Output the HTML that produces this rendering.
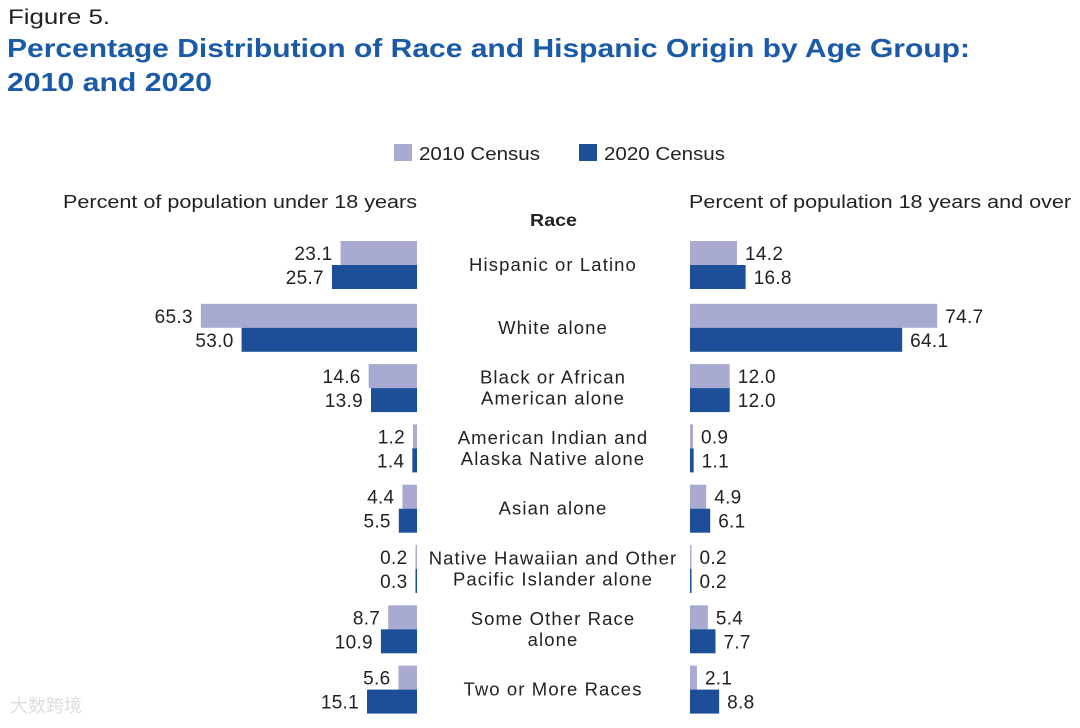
<!DOCTYPE html>
<html><head><meta charset="utf-8"><style>
body{margin:0;background:#fff;width:1080px;height:723px;overflow:hidden;font-family:"Liberation Sans",sans-serif;}
svg text{font-family:"Liberation Sans",sans-serif;}
</style></head><body>
<svg width="1080" height="723">
<text x="8" y="24" font-size="21" fill="#222" textLength="102" lengthAdjust="spacingAndGlyphs">Figure 5.</text>
<text x="7" y="57" font-size="26" font-weight="bold" fill="#1a5aa6" textLength="963" lengthAdjust="spacingAndGlyphs">Percentage Distribution of Race and Hispanic Origin by Age Group:</text>
<text x="7" y="91" font-size="26" font-weight="bold" fill="#1a5aa6" textLength="205" lengthAdjust="spacingAndGlyphs">2010 and 2020</text>
<g>
<rect x="394" y="144" width="18" height="17" fill="#a9aad2"/>
<text x="419" y="160" font-size="18.5" fill="#222" textLength="121" lengthAdjust="spacingAndGlyphs">2010 Census</text>
<rect x="579" y="144" width="18" height="17" fill="#1c4f98"/>
<text x="604" y="160" font-size="18.5" fill="#222" textLength="121" lengthAdjust="spacingAndGlyphs">2020 Census</text>
</g>
<text x="63" y="208" font-size="18" fill="#222" textLength="354" lengthAdjust="spacingAndGlyphs">Percent of population under 18 years</text>
<text x="530" y="226" font-size="17.5" font-weight="bold" fill="#222" textLength="47" lengthAdjust="spacingAndGlyphs">Race</text>
<text x="689" y="208" font-size="18" fill="#222" textLength="382" lengthAdjust="spacingAndGlyphs">Percent of population 18 years and over</text>
<g id="marks"></g>
<text x="10" y="712" font-size="18" fill="#ddd">大数跨境</text>
</svg>
<script>
const categories=[["Hispanic or Latino"],["White alone"],["Black or African","American alone"],["American Indian and","Alaska Native alone"],["Asian alone"],["Native Hawaiian and Other","Pacific Islander alone"],["Some Other Race","alone"],["Two or More Races"]];
const under18_2010=[23.1,65.3,14.6,1.2,4.4,0.2,8.7,5.6];
const under18_2020=[25.7,53.0,13.9,1.4,5.5,0.3,10.9,15.1];
const over18_2010=[14.2,74.7,12.0,0.9,4.9,0.2,5.4,2.1];
const over18_2020=[16.8,64.1,12.0,1.1,6.1,0.2,7.7,8.8];
const NS="http://www.w3.org/2000/svg";
const g=document.getElementById('marks');
const k=3.31, leftZero=417, rightZero=690, bh=24;
function xLen(v){return v*k;}
function yRow(i){return i===0?241:243.5+i*60.3;}
function mk(tag,attrs){const e=document.createElementNS(NS,tag);for(const a in attrs)e.setAttribute(a,attrs[a]);g.appendChild(e);return e;}
categories.forEach((c,i)=>{
  const y=yRow(i);
  const sets=[[under18_2010[i],'#a9aad2',y,'left','2010'],[under18_2020[i],'#1c4f98',y+bh,'left','2020'],[over18_2010[i],'#a9aad2',y,'right','2010'],[over18_2020[i],'#1c4f98',y+bh,'right','2020']];
  sets.forEach(s=>{
    const w=Math.max(xLen(s[0]),1.5);
    const x=s[3]==='left'?leftZero-w:rightZero;
    const r=mk('rect',{x:x,y:s[2],width:w,height:bh,fill:s[1]});
    
    
    const t=mk('text',{x:s[3]==='left'?x-8:x+w+8,y:s[2]+19,'font-size':19,fill:'#222','letter-spacing':'0.3','text-anchor':s[3]==='left'?'end':'start'});
    t.textContent=s[0].toFixed(1);
    
    
  });
  const mid=y+bh;
  c.forEach((line,j)=>{
    const t=mk('text',{x:553,y:mid+6+(j-(c.length-1)/2)*21,'font-size':18.5,fill:'#222','letter-spacing':'1.1','text-anchor':'middle'});
    t.textContent=line;
    
    
  });
});
</script>
</body></html>
